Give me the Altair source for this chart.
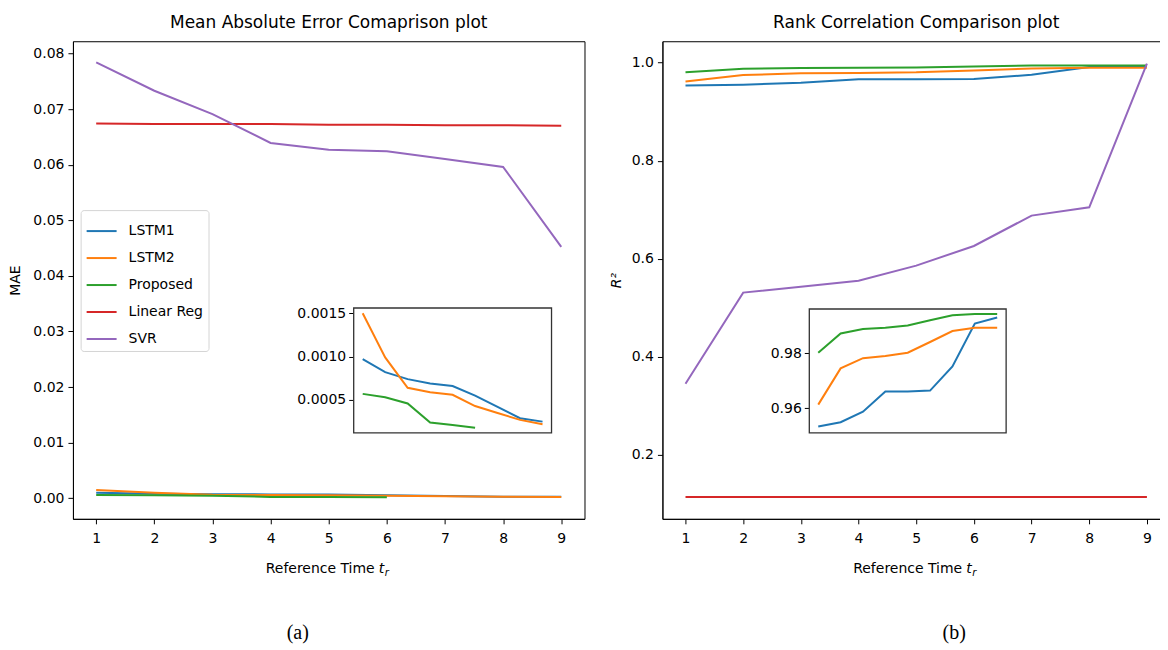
import altair as alt
import pandas as pd

# ---------------- data ----------------
t = [1, 2, 3, 4, 5, 6, 7, 8, 9]
t_proposed_mae = [1, 2, 3, 4, 5, 6]
models = ["LSTM1", "LSTM2", "Proposed", "Linear Reg", "SVR"]
colors = ["#1f77b4", "#ff7f0e", "#2ca02c", "#d62728", "#9467bd"]

mae_lstm1 = [0.00097, 0.00082, 0.00074, 0.00069, 0.00066, 0.00055, 0.00042, 0.00029, 0.00025]
mae_lstm2 = [0.00150, 0.00099, 0.00064, 0.00059, 0.00056, 0.00043, 0.00035, 0.00027, 0.00022]
mae_proposed = [0.00057, 0.00053, 0.00046, 0.00024, 0.00021, 0.00018]
mae_linreg = [0.0674, 0.0673, 0.0673, 0.0673, 0.0672, 0.0672, 0.0671, 0.0671, 0.0670]
mae_svr = [0.0784, 0.0733, 0.0691, 0.0639, 0.0627, 0.0624, 0.0610, 0.0596, 0.0452]

r2_lstm1 = [0.9533, 0.9549, 0.9587, 0.9661, 0.9661, 0.9664, 0.9752, 0.9908, 0.9930]
r2_lstm2 = [0.9613, 0.9745, 0.9782, 0.9790, 0.9802, 0.9841, 0.9881, 0.9893, 0.9893]
r2_proposed = [0.9802, 0.9872, 0.9888, 0.9893, 0.9901, 0.9920, 0.9938, 0.9943, 0.9943]
r2_linreg = [0.114, 0.114, 0.114, 0.114, 0.114, 0.114, 0.114, 0.114, 0.114]
r2_svr = [0.345, 0.531, 0.543, 0.555, 0.586, 0.626, 0.688, 0.705, 0.998]

mae_ticks = [0.00, 0.01, 0.02, 0.03, 0.04, 0.05, 0.06, 0.07, 0.08]
r2_ticks = [0.2, 0.4, 0.6, 0.8, 1.0]
mae_inset_ticks = [0.0005, 0.0010, 0.0015]
r2_inset_ticks = [0.96, 0.98]


def long_df(series):
    rows = []
    for name, xs, ys in series:
        for x, y in zip(xs, ys):
            rows.append({"t": x, "model": name, "v": y})
    return pd.DataFrame(rows)


mae_df = long_df([
    ("LSTM1", t, mae_lstm1), ("LSTM2", t, mae_lstm2), ("Proposed", t_proposed_mae, mae_proposed),
    ("Linear Reg", t, mae_linreg), ("SVR", t, mae_svr)])
mae_in_df = long_df([
    ("LSTM1", t, mae_lstm1), ("LSTM2", t, mae_lstm2), ("Proposed", t_proposed_mae, mae_proposed)])
r2_df = long_df([
    ("LSTM1", t, r2_lstm1), ("LSTM2", t, r2_lstm2), ("Proposed", t, r2_proposed),
    ("Linear Reg", t, r2_linreg), ("SVR", t, r2_svr)])
r2_in_df = long_df([
    ("LSTM1", t, r2_lstm1), ("LSTM2", t, r2_lstm2), ("Proposed", t, r2_proposed)])

FONT = "DejaVu Sans"
H = 478
one = pd.DataFrame({"k": [0]})
color_scale = alt.Scale(domain=models, range=colors)


def panel(df, in_df, title, ytitle, ytitle_style, ydom, yvals, yfmt, ytitle_pad, width,
          in_xrange, in_ydom, in_yrange, in_yvals, in_yfmt, legend_xy, caption, cap_x):
    main = alt.Chart(df).mark_line(strokeWidth=2).encode(
        x=alt.X("t:Q", title=None,
                scale=alt.Scale(domain=[0.6, 9.4], nice=False, zero=False),
                axis=alt.Axis(values=t, format="d", grid=False, labelFontSize=14, labelFont=FONT,
                              labelColor="black", tickSize=5, tickColor="black", labelPadding=8,
                              domainColor="black", labelFlush=False)),
        y=alt.Y("v:Q",
                scale=alt.Scale(domain=ydom, nice=False, zero=False),
                axis=alt.Axis(values=yvals, format=yfmt, grid=False, labelFontSize=14, labelFont=FONT,
                              labelColor="black", tickSize=5, tickColor="black", labelPadding=4,
                              domainColor="black", title=ytitle, titleFont=FONT, titleFontSize=14,
                              titleFontWeight="normal", titleFontStyle=ytitle_style,
                              titleColor="black", titlePadding=ytitle_pad)),
        color=alt.Color("model:N", scale=color_scale,
                        legend=alt.Legend(title=None, orient="none", legendX=legend_xy[0],
                                          legendY=legend_xy[1], symbolType="stroke", symbolSize=900,
                                          symbolStrokeWidth=2, labelFontSize=14, labelFont=FONT,
                                          labelColor="black", labelOffset=11, rowPadding=4,
                                          padding=5, strokeColor="#d4d4d4", fillColor="white",
                                          cornerRadius=3)),
    )

    in_x = alt.Scale(domain=[0.6, 9.4], range=in_xrange, nice=False, zero=False)
    in_y = alt.Scale(domain=in_ydom, range=in_yrange, nice=False, zero=False)
    frame = alt.Chart(one).mark_rect(fill="white", stroke="#333333", strokeWidth=1.3).encode(
        x=alt.X(datum=0.6, scale=in_x, axis=None),
        x2=alt.X2(datum=9.4),
        y=alt.Y(datum=in_ydom[0], scale=in_y,
                axis=alt.Axis(orient="left", offset=-in_xrange[0], values=in_yvals, format=in_yfmt,
                              grid=False, domain=False, labelFontSize=14, labelFont=FONT,
                              labelColor="black", tickSize=5, tickColor="black", labelPadding=3,
                              title=None)),
        y2=alt.Y2(datum=in_ydom[1]),
    )
    in_lines = alt.Chart(in_df).mark_line(strokeWidth=2).encode(
        x=alt.X("t:Q", scale=in_x, axis=None),
        y=alt.Y("v:Q", scale=in_y, title=None),
        color=alt.Color("model:N", scale=color_scale, legend=None),
    )
    inset = alt.layer(frame, in_lines)

    cx = width / 2
    xt1 = alt.Chart(one).mark_text(text="Reference Time", align="right", baseline="alphabetic",
                                   fontSize=14, font=FONT, color="black").encode(
        x=alt.value(cx + 46), y=alt.value(H + 54))
    xt2 = alt.Chart(one).mark_text(text="t", align="left", baseline="alphabetic", fontStyle="italic",
                                   fontSize=14, font=FONT, color="black").encode(
        x=alt.value(cx + 50), y=alt.value(H + 54))
    xt3 = alt.Chart(one).mark_text(text="r", align="left", baseline="alphabetic", fontStyle="italic",
                                   fontSize=10, font=FONT, color="black").encode(
        x=alt.value(cx + 56), y=alt.value(H + 57))
    cap = alt.Chart(one).mark_text(text=caption, align="center", baseline="middle",
                                   fontSize=20, font="Liberation Serif", color="black").encode(
        x=alt.value(cap_x), y=alt.value(H + 114))

    return alt.layer(main, inset, xt1, xt2, xt3, cap).resolve_scale(
        x="independent", y="independent").properties(
        width=width, height=H,
        title=alt.TitleParams(title, fontSize=17, font=FONT, fontWeight="normal",
                              color="black", offset=9, anchor="middle"))


left = panel(mae_df, mae_in_df, "Mean Absolute Error Comaprison plot", "MAE", "normal",
             [-0.0037, 0.0822], mae_ticks, ".2f", 10, 512,
             [281, 479], [0.00012, 0.00156], [392, 267], mae_inset_ticks, ".4f",
             (7.7, 169), "(a)", 225)
right = panel(r2_df, r2_in_df, "Rank Correlation Comparison plot", "R²", "italic",
              [0.0697, 1.0435], r2_ticks, ".1f", 8, 508,
              [147, 344], [0.951, 0.9961], [392, 268], r2_inset_ticks, ".2f",
              (374, 168), "(b)", 292)

chart = alt.hconcat(left, right, spacing=23).properties(
    padding={"left": 0, "top": 5, "right": -11, "bottom": 0}
).configure(background="white").configure_view(stroke="black", strokeWidth=1)

chart.save("out.html", embed_options={"renderer": "svg", "actions": False})
